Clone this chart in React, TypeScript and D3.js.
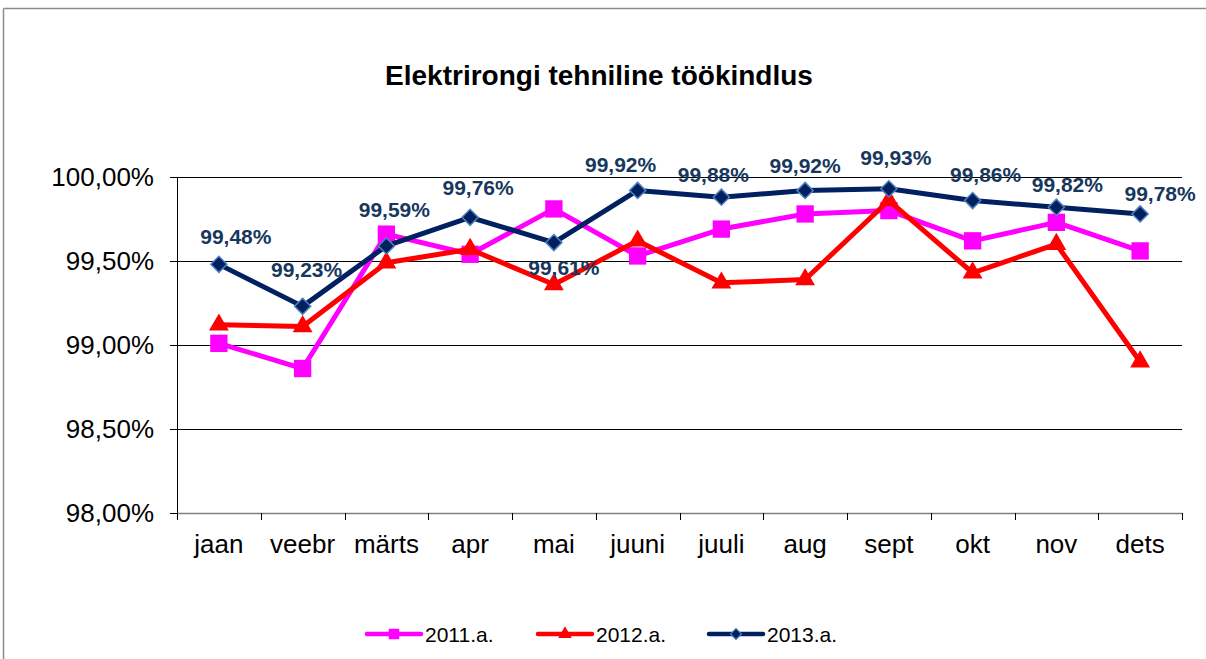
import React from "react";
import * as d3 from "d3";

const months = ["jaan", "veebr", "märts", "apr", "mai", "juuni", "juuli", "aug", "sept", "okt", "nov", "dets"];
const s2011 = [99.01, 98.86, 99.66, 99.54, 99.81, 99.53, 99.69, 99.78, 99.80, 99.62, 99.73, 99.56];
const s2012 = [99.12, 99.11, 99.49, 99.57, 99.36, 99.62, 99.37, 99.39, 99.86, 99.43, 99.60, 98.90];
const s2013 = [99.48, 99.23, 99.59, 99.76, 99.61, 99.92, 99.88, 99.92, 99.93, 99.86, 99.82, 99.78];
const yTicks = [98.0, 98.5, 99.0, 99.5, 100.0];
const seriesNames = ["2011.a.", "2012.a.", "2013.a."];
const title = "Elektrirongi tehniline töökindlus";
// label offsets (px) for the 2013 data labels, relative to each point
const labelDx = [17, 4, 8, 8, 10, -17, -8, 0, 7, 13, 11, 20];
const labelDy = [-28, -37, -36, -30, 25, -26, -23, -25, -31, -26, -23, -21];

const W = 1206, H = 659;
const L = 177, R = 1182, T = 177, B = 513;
const FONT = "'Liberation Sans', Arial, sans-serif";
const C11 = "#FF00FF", C12 = "#FF0000", C13 = "#002060", C13S = "#4F81BD", LBL = "#17375E";

const fmt = (v: number) => v.toFixed(2).replace(".", ",") + "%";

export default function App() {
  const x = d3.scaleBand<string>().domain(months).range([L, R]);
  const y = d3.scaleLinear().domain([98, 100]).range([B, T]);
  const cx = (i: number) => (x(months[i]) as number) + x.bandwidth() / 2;
  const line = d3.line<number>().x((_, i) => cx(i)).y((d) => y(d));
  const sq = d3.symbol().type(d3.symbolSquare).size(300)()!;
  const tri = d3.symbol().type(d3.symbolTriangle).size(170)()!;
  const dia = d3.symbol().type(d3.symbolSquare).size(130)()!;
  const sqL = d3.symbol().type(d3.symbolSquare).size(110)()!;
  const triL = d3.symbol().type(d3.symbolTriangle).size(80)()!;
  const diaL = d3.symbol().type(d3.symbolSquare).size(60)()!;

  const legendX = [367, 538, 709];
  const legendY = 634;

  return (
    <svg width={W} height={H} style={{ position: "absolute", left: 0, top: 0, background: "#fff" }} fontFamily={FONT}>
      <rect x={0} y={0} width={W} height={H} fill="#fff" />
      {/* frame */}
      <line x1={3.5} y1={8.5} x2={W} y2={8.5} stroke="#8c8c8c" strokeWidth={1.5} />
      <line x1={3.5} y1={8.5} x2={3.5} y2={H} stroke="#8c8c8c" strokeWidth={1.5} />

      <text x={599} y={85} textAnchor="middle" fontSize={28} fontWeight="bold" fill="#000">{title}</text>

      {/* grid */}
      {yTicks.map((t) => (
        <g key={t}>
          {t > 98 && <line x1={L} x2={R} y1={Math.round(y(t)) + 0.5} y2={Math.round(y(t)) + 0.5} stroke="#000" strokeWidth={1} />}
          <line x1={L - 7} x2={L} y1={Math.round(y(t)) + 0.5} y2={Math.round(y(t)) + 0.5} stroke="#000" strokeWidth={1} />
          <text x={154} y={y(t)} dy="0.36em" textAnchor="end" fontSize={26} fill="#000">{fmt(t)}</text>
        </g>
      ))}
      <line x1={L + 0.5} x2={L + 0.5} y1={T} y2={B} stroke="#000" strokeWidth={1} />
      <line x1={L} x2={R + 0.5} y1={B + 0.5} y2={B + 0.5} stroke="#808080" strokeWidth={1.5} />
      {d3.range(months.length + 1).map((i) => {
        const xx = Math.round(L + i * x.bandwidth()) + 0.5;
        return <line key={i} x1={xx} x2={xx} y1={B} y2={B + 7} stroke="#000" strokeWidth={1} />;
      })}
      {months.map((m, i) => (
        <text key={m} x={cx(i)} y={553} textAnchor="middle" fontSize={26} fill="#000">{m}</text>
      ))}

      {/* series */}
      <path d={line(s2011)!} fill="none" stroke={C11} strokeWidth={5} strokeLinejoin="round" />
      {s2011.map((v, i) => (
        <path key={i} d={sq} transform={`translate(${cx(i)},${y(v)})`} fill={C11} />
      ))}
      <path d={line(s2012)!} fill="none" stroke={C12} strokeWidth={5} strokeLinejoin="round" />
      {s2012.map((v, i) => (
        <path key={i} d={tri} transform={`translate(${cx(i)},${y(v)})`} fill={C12} />
      ))}
      <path d={line(s2013)!} fill="none" stroke={C13} strokeWidth={5} strokeLinejoin="round" />
      {s2013.map((v, i) => (
        <path key={i} d={dia} transform={`translate(${cx(i)},${y(v)}) rotate(45)`} fill={C13} stroke={C13S} strokeWidth={1.5} />
      ))}
      {s2013.map((v, i) => (
        <text key={i} x={cx(i) + labelDx[i]} y={y(v) + labelDy[i]} dy="0.36em" textAnchor="middle" fontSize={21} fontWeight="bold" fill={LBL}>
          {fmt(v)}
        </text>
      ))}

      {/* legend */}
      {seriesNames.map((n, k) => {
        const lx = legendX[k];
        const col = [C11, C12, C13][k];
        const mk = [sqL, triL, diaL][k];
        return (
          <g key={n}>
            <line x1={lx} x2={lx + 54} y1={legendY} y2={legendY} stroke={col} strokeWidth={4.5} strokeLinecap="round" />
            <path d={mk} transform={`translate(${lx + 27},${legendY})${k === 2 ? " rotate(45)" : ""}`} fill={col} stroke={k === 2 ? C13S : "none"} strokeWidth={1.2} />
            <text x={lx + 58} y={legendY} dy="0.36em" fontSize={21} fill="#000">{n}</text>
          </g>
        );
      })}
    </svg>
  );
}
